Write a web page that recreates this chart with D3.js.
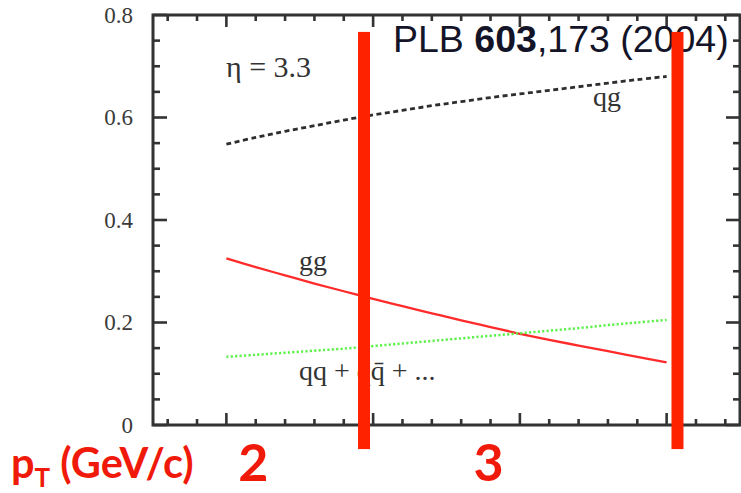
<!DOCTYPE html>
<html>
<head>
<meta charset="utf-8">
<script src="https://cdn.jsdelivr.net/npm/d3@7"></script>
<style>
  html, body { margin: 0; padding: 0; background: #fff; }
  svg { display: block; }
</style>
</head>
<body>
<svg id="chart" width="741" height="493"></svg>
<script>
// transverse momentum grid (GeV/c)
const pT = [1.5, 1.6, 1.7, 1.8, 1.9, 2.0, 2.1, 2.2, 2.3, 2.4, 2.5, 2.6, 2.7, 2.8, 2.9, 3.0];
// fractional contributions of the partonic channels at eta = 3.3
const qgFrac  = [0.548, 0.561, 0.573, 0.584, 0.595, 0.605, 0.614, 0.623, 0.631, 0.639, 0.646, 0.653, 0.660, 0.667, 0.674, 0.680];
const ggFrac  = [0.325, 0.308, 0.292, 0.276, 0.261, 0.246, 0.232, 0.218, 0.204, 0.191, 0.178, 0.166, 0.155, 0.144, 0.133, 0.122];
const qqFrac  = [0.133, 0.137, 0.141, 0.145, 0.149, 0.154, 0.159, 0.164, 0.169, 0.174, 0.179, 0.184, 0.189, 0.195, 0.200, 0.205];

const yMajorTicks = [0, 0.2, 0.4, 0.6, 0.8];
const yTickLabels = ["0", "0.2", "0.4", "0.6", "0.8"];
const xMajorTicks = [1.5, 2.0, 2.5, 3.0];

// red overlay: vertical markers and pT labels
const markerX = [1.969, 3.037];
const markerY = [-0.047, 0.767];
const pTLabels = ["2", "3"];
const pTLabelX = [1.592, 2.393];

(function draw() {
  const svg = d3.select("#chart");
  const mLeft = 153, mRight = 740, mTop = 15, mBottom = 425;

  const x = d3.scaleLinear().domain([1.25, 3.25]).range([mLeft, mRight]);
  const y = d3.scaleLinear().domain([0, 0.8]).range([mBottom, mTop]);

  const xMinor = d3.range(13, 33).map(d => d / 10).filter(v => !xMajorTicks.some(m => Math.abs(m - v) < 1e-6));
  const yMinor = d3.range(0, 17).map(d => d * 0.05).filter(v => !yMajorTicks.some(m => Math.abs(m - v) < 1e-6));

  const axisColor = "#333";
  const serif = "'Liberation Serif', 'DejaVu Serif', serif";

  const ticks = svg.append("g").attr("stroke", axisColor).attr("stroke-width", 2.6);

  // inward ticks on the vertical edges
  function yTicks(values, len) {
    ticks.append("g").selectAll("line").data(values).join("line")
      .attr("x1", mLeft).attr("x2", mLeft + len)
      .attr("y1", d => y(d)).attr("y2", d => y(d));
    ticks.append("g").selectAll("line").data(values).join("line")
      .attr("x1", mRight).attr("x2", mRight - len)
      .attr("y1", d => y(d)).attr("y2", d => y(d));
  }
  // inward ticks on the horizontal edges
  function xTicks(values, len) {
    ticks.append("g").selectAll("line").data(values).join("line")
      .attr("x1", d => x(d)).attr("x2", d => x(d))
      .attr("y1", mBottom).attr("y2", mBottom - len);
    ticks.append("g").selectAll("line").data(values).join("line")
      .attr("x1", d => x(d)).attr("x2", d => x(d))
      .attr("y1", mTop).attr("y2", mTop + len);
  }
  yTicks(yMajorTicks, 14);
  yTicks(yMinor, 7);
  xTicks(xMajorTicks, 12);
  xTicks(xMinor, 6);

  // y tick labels
  svg.append("g").selectAll("text").data(yMajorTicks).join("text")
    .attr("x", mLeft - 20).attr("y", d => y(d)).attr("dy", "0.34em")
    .attr("text-anchor", "end")
    .attr("font-family", serif).attr("font-size", 23).attr("fill", "#3a3a3a")
    .text((d, i) => yTickLabels[i]);

  // frame
  svg.append("rect")
    .attr("x", mLeft).attr("y", mTop)
    .attr("width", mRight - mLeft).attr("height", mBottom - mTop)
    .attr("fill", "none").attr("stroke", axisColor).attr("stroke-width", 3);

  // channel curves
  const line = d3.line().x(d => x(d[0])).y(d => y(d[1])).curve(d3.curveCatmullRom);

  svg.append("path")
    .datum(pT.map((p, i) => [p, qgFrac[i]]))
    .attr("d", line).attr("fill", "none")
    .attr("stroke", "#2e2e2e").attr("stroke-width", 2.8)
    .attr("stroke-dasharray", "5,3.5");

  svg.append("path")
    .datum(pT.map((p, i) => [p, ggFrac[i]]))
    .attr("d", line).attr("fill", "none")
    .attr("stroke", "#ff2b2b").attr("stroke-width", 2.3);

  svg.append("path")
    .datum(pT.map((p, i) => [p, qqFrac[i]]))
    .attr("d", line).attr("fill", "none")
    .attr("stroke", "#5cf24a").attr("stroke-width", 2.5)
    .attr("stroke-dasharray", "2.2,2.2");

  // curve labels
  const txt = svg.append("g").attr("font-family", serif).attr("fill", "#333");
  txt.append("text").attr("x", 226).attr("y", 77).attr("font-size", 30).text("η = 3.3");
  txt.append("text").attr("x", 593).attr("y", 106).attr("font-size", 28).text("qg");
  txt.append("text").attr("x", 299).attr("y", 270).attr("font-size", 28).text("gg");
  txt.append("text").attr("x", 299).attr("y", 380).attr("font-size", 28).text("qq + qq\u0304 + ...");

  // reference
  const ref = svg.append("text")
    .attr("x", 393).attr("y", 52)
    .attr("font-family", "'Liberation Sans', Arial, sans-serif")
    .attr("font-size", 37.5).attr("fill", "#141428");
  ref.append("tspan").text("PLB ");
  ref.append("tspan").attr("font-weight", "bold").text("603");
  ref.append("tspan").text(",173 (2004)");

  // red overlay markers
  svg.append("g").selectAll("rect").data(markerX).join("rect")
    .attr("x", d => x(d) - 6).attr("width", 12)
    .attr("y", y(markerY[1])).attr("height", y(markerY[0]) - y(markerY[1]))
    .attr("fill", "#ff2200");

  const redFont = "Lato, 'Open Sans', sans-serif";
  svg.append("g").selectAll("text").data(pTLabels).join("text")
    .attr("x", (d, i) => x(pTLabelX[i])).attr("y", 481)
    .attr("text-anchor", "middle")
    .attr("font-family", redFont).attr("font-weight", "bold")
    .attr("font-size", 52).attr("fill", "#f01a0a")
    .text(d => d);

  const axisTitle = svg.append("text")
    .attr("x", 11).attr("y", 478)
    .attr("font-family", redFont).attr("font-weight", "bold")
    .attr("font-size", 41.5).attr("fill", "#f01a0a");
  axisTitle.append("tspan").text("p");
  axisTitle.append("tspan").attr("font-size", 26).attr("dy", 9).text("T");
  axisTitle.append("tspan").attr("dy", -9).text(" (GeV/c)");
})();
</script>
</body>
</html>
